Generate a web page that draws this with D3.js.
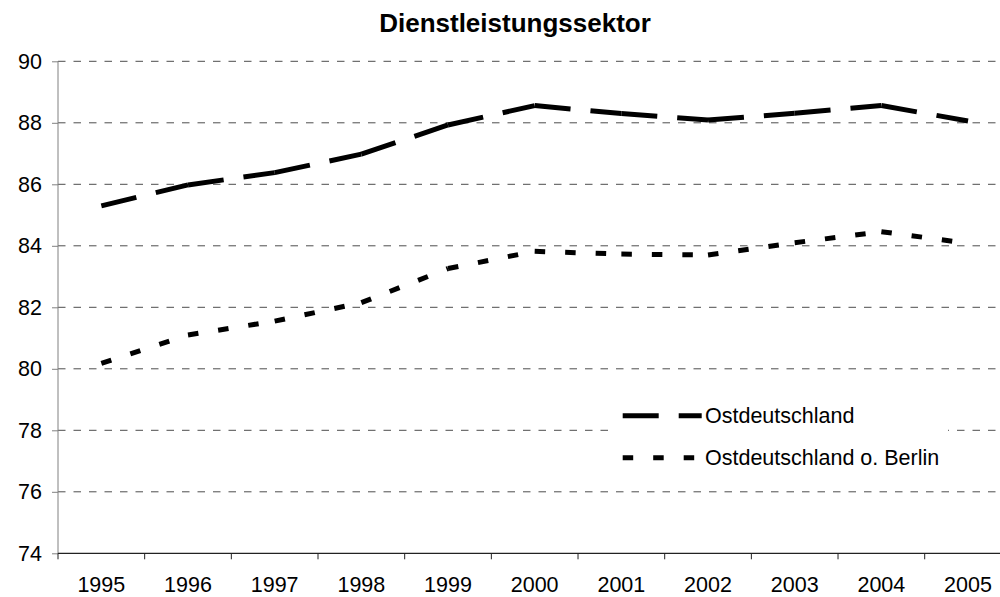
<!DOCTYPE html>
<html>
<head>
<meta charset="utf-8">
<script src="https://cdn.jsdelivr.net/npm/d3@7"></script>
<style>
  body { margin: 0; background: #fff; }
  svg { display: block; font-family: Arial, "Liberation Sans", sans-serif; }
</style>
</head>
<body>
<svg id="chart" width="1000" height="597"></svg>
<script>
const years = ["1995", "1996", "1997", "1998", "1999", "2000", "2001", "2002", "2003", "2004", "2005"];
const ost = [85.30, 85.98, 86.38, 86.98, 87.93, 88.56, 88.30, 88.09, 88.31, 88.56, 88.06];
const ostOhneBerlin = [80.18, 81.10, 81.55, 82.15, 83.26, 83.82, 83.73, 83.70, 84.10, 84.46, 84.08];
const yTicks = [74, 76, 78, 80, 82, 84, 86, 88, 90];
const seriesNames = ["Ostdeutschland", "Ostdeutschland o. Berlin"];

const svg = d3.select('#chart');
const plotLeft = 58, plotBottom = 553.3, plotTop = 61.3, band = 86.67;
const fontSize = 21.5;

const x = d3.scaleBand()
  .domain(years)
  .range([plotLeft, plotLeft + band * years.length]);

const y = d3.scaleLinear()
  .domain([74, 90])
  .range([plotBottom, plotTop]);

// dashed grid lines
svg.append('g')
  .selectAll('line')
  .data(yTicks.filter(d => d > 74))
  .join('line')
    .attr('x1', plotLeft)
    .attr('x2', 1000)
    .attr('y1', d => y(d))
    .attr('y2', d => y(d))
    .attr('stroke', '#4d4d4d')
    .attr('stroke-width', 1)
    .attr('stroke-dasharray', '7.5,8');

// y axis
const yAxisG = svg.append('g')
  .attr('transform', `translate(${plotLeft},0)`)
  .call(d3.axisLeft(y).tickValues(yTicks).tickSize(6).tickPadding(10).tickFormat(d3.format('d')));
yAxisG.select('.domain').attr('stroke', '#808080').attr('d', `M0,${plotTop}V${plotBottom}`);
yAxisG.selectAll('.tick line').attr('stroke', '#808080');
yAxisG.selectAll('.tick text')
  .attr('font-size', fontSize)
  .attr('fill', '#000')
  .attr('font-family', 'Arial, "Liberation Sans", sans-serif');

// x axis with ticks at band boundaries
const xAxisG = svg.append('g')
  .attr('transform', `translate(0,${plotBottom})`);
xAxisG.append('line')
  .attr('x1', plotLeft).attr('x2', 1000)
  .attr('stroke', '#222').attr('stroke-width', 1.2);
xAxisG.selectAll('line.tk')
  .data(years)
  .join('line')
    .attr('class', 'tk')
    .attr('x1', d => x(d)).attr('x2', d => x(d))
    .attr('y1', 0).attr('y2', 6)
    .attr('stroke', '#222');
xAxisG.selectAll('text')
  .data(years)
  .join('text')
    .attr('x', d => x(d) + x.bandwidth() / 2)
    .attr('y', 38.5)
    .attr('text-anchor', 'middle')
    .attr('font-size', fontSize)
    .text(d => d);

// lines: Excel restarts the dash pattern on every segment
const line = d3.line()
  .x(d => x(d.year) + x.bandwidth() / 2)
  .y(d => y(d.value));

const series = [
  { name: seriesNames[0], values: ost, dash: '36,20' },
  { name: seriesNames[1], values: ostOhneBerlin, dash: '10.5,20' }
];

series.forEach(s => {
  const pts = years.map((yr, i) => ({ year: yr, value: s.values[i] }));
  const segs = d3.pairs(pts);
  svg.append('g')
    .selectAll('path')
    .data(segs)
    .join('path')
      .attr('d', line)
      .attr('fill', 'none')
      .attr('stroke', '#000')
      .attr('stroke-width', 5)
      .attr('stroke-linecap', 'butt')
      .attr('stroke-dasharray', s.dash);
});

// title
svg.append('text')
  .attr('x', 515)
  .attr('y', 31.7)
  .attr('text-anchor', 'middle')
  .attr('font-size', 26)
  .attr('font-weight', 'bold')
  .text('Dienstleistungssektor');

// legend
const legend = svg.append('g');
legend.append('rect')
  .attr('x', 612).attr('y', 393)
  .attr('width', 336).attr('height', 85)
  .attr('fill', '#fff');
const legendRows = legend.selectAll('g.row')
  .data(series)
  .join('g')
    .attr('class', 'row')
    .attr('transform', (_, i) => `translate(0,${415.7 + i * 42})`);
legendRows.append('line')
  .attr('x1', 622.7).attr('x2', 701.7)
  .attr('stroke', '#000')
  .attr('stroke-width', 5)
  .attr('stroke-dasharray', d => d.dash);
legendRows.append('text')
  .attr('x', 705)
  .attr('y', 7.5)
  .attr('font-size', fontSize)
  .text(d => d.name);
</script>
</body>
</html>
